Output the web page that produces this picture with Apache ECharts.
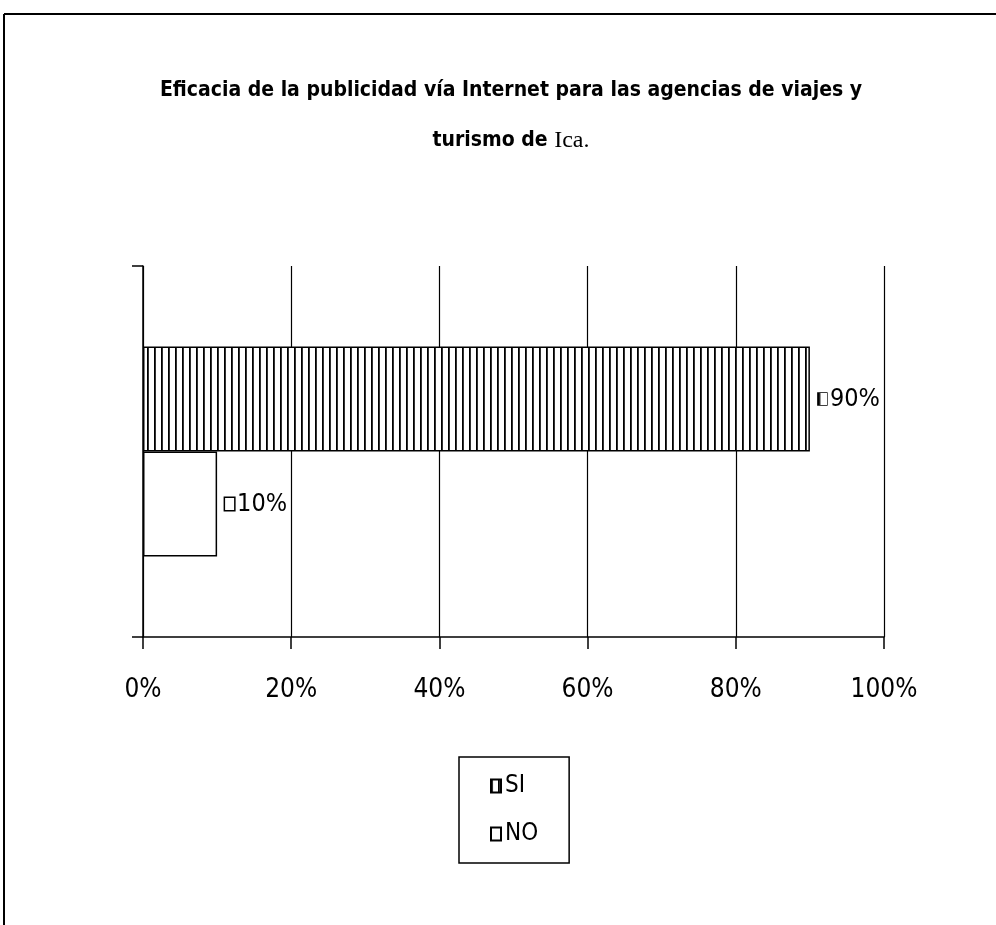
<!DOCTYPE html>
<html>
<head>
<meta charset="utf-8">
<style>
  html, body { margin: 0; padding: 0; background: #fff; }
  #chart { width: 996px; height: 925px; }
</style>
<script src="https://cdn.jsdelivr.net/npm/echarts@6/dist/echarts.min.js"></script>
</head>
<body>
<div id="chart"></div>
<script>
// Data
const categories = [''];
const seriesNames = ['SI', 'NO'];
const siValues = [90];
const noValues = [10];
const tickValues = [0, 20, 40, 60, 80, 100];

// Vertical-stripe fill for the "SI" bar
function stripePattern() {
  const c = document.createElement('canvas');
  c.width = 7; c.height = 8;
  const ctx = c.getContext('2d');
  ctx.fillStyle = '#fff';
  ctx.fillRect(0, 0, 7, 8);
  ctx.fillStyle = '#000';
  ctx.fillRect(0, 0, 1.8, 8);
  return c;
}
const stripes = { image: stripePattern(), repeat: 'repeat' };

const FONT = '"Liberation Sans Narrow", "DejaVu Sans Condensed", sans-serif';

function valueLabel(fillStyle) {
  return {
    show: true,
    position: 'right',
    distance: 8,
    formatter: p => '{box|}{v|' + p.value + '%}',
    rich: {
      box: {
        width: 9, height: 12,
        borderColor: '#000', borderWidth: 1.5,
        backgroundColor: fillStyle
      },
      v: {
        fontFamily: FONT, fontSize: 25, color: '#000',
        padding: [0, 0, 0, 3]
      }
    }
  };
}

const chart = echarts.init(document.getElementById('chart'), null, { renderer: 'canvas' });

chart.setOption({
  backgroundColor: '#fff',
  animation: false,
  title: {
    text: 'Eficacia de la publicidad vía Internet para las agencias de viajes y\n{a|turismo de }{b|Ica.}',
    left: 506,
    textAlign: 'center',
    top: 61,
    textStyle: {
      fontFamily: FONT,
      fontWeight: 'bold',
      fontSize: 21,
      color: '#000',
      lineHeight: 50,
      rich: {
        a: { fontFamily: FONT, fontWeight: 'bold', fontSize: 21, color: '#000', lineHeight: 50 },
        b: { fontFamily: '"Liberation Serif", serif', fontWeight: 'normal', fontSize: 24, color: '#000', lineHeight: 50 }
      }
    }
  },
  legend: {
    orient: 'vertical',
    left: 459,
    top: 757,
    padding: [17, 31, 17, 31],
    itemGap: 24,
    itemWidth: 10,
    itemHeight: 13,
    borderColor: '#000',
    borderWidth: 1.5,
    icon: 'rect',
    data: seriesNames,
    textStyle: { fontFamily: FONT, fontSize: 24, color: '#000', padding: [0, 0, 0, -1] }
  },
  grid: { left: 143, right: 112, top: 266, bottom: 288, containLabel: false },
  xAxis: {
    type: 'value',
    min: tickValues[0],
    max: tickValues[tickValues.length - 1],
    interval: 20,
    axisLine: { show: true, lineStyle: { color: '#000', width: 1.5 } },
    axisTick: { show: true, length: 12, lineStyle: { color: '#000', width: 1.5 } },
    splitLine: { show: true, lineStyle: { color: '#000', width: 1.2 } },
    axisLabel: {
      margin: 40,
      formatter: '{value}%',
      fontFamily: FONT, fontSize: 26, color: '#000'
    }
  },
  yAxis: {
    type: 'category',
    data: categories,
    axisLine: { show: true, lineStyle: { color: '#000', width: 1.5 } },
    axisTick: { show: true, length: 11, lineStyle: { color: '#000', width: 1.5 } },
    axisLabel: { show: false }
  },
  series: [
    {
      name: seriesNames[0],
      type: 'bar',
      data: siValues,
      barWidth: 105,
      barGap: '0%',
      itemStyle: { color: stripes, borderColor: '#000', borderWidth: 1.5 },
      label: valueLabel(stripes)
    },
    {
      name: seriesNames[1],
      type: 'bar',
      data: noValues,
      barWidth: 105,
      barGap: '0%',
      itemStyle: { color: '#fff', borderColor: '#000', borderWidth: 1.5 },
      label: valueLabel('#fff')
    }
  ],
  graphic: [
    // outer frame (top and left edges)
    { type: 'line', shape: { x1: 4, y1: 14, x2: 996, y2: 14 }, style: { stroke: '#000', lineWidth: 2 } },
    { type: 'line', shape: { x1: 4, y1: 14, x2: 4, y2: 925 }, style: { stroke: '#000', lineWidth: 2 } }
  ]
});
</script>
</body>
</html>
